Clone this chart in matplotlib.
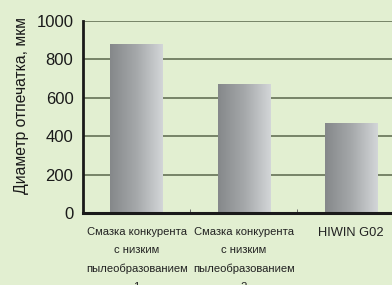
import numpy as np
import matplotlib.pyplot as plt
from matplotlib.colors import LinearSegmentedColormap

# Data
categories = [
    "Смазка конкурента\nс низким\nпылеобразованием\n1",
    "Смазка конкурента\nс низким\nпылеобразованием\n2",
    "HIWIN G02",
]
values = [880, 668, 465]
yticks = [0, 200, 400, 600, 800, 1000]

plt.rcParams["font.family"] = ["Liberation Sans", "DejaVu Sans"]

bg = "#e2efd1"
fig = plt.figure(figsize=(3.92, 2.85), dpi=100, facecolor=bg)
ax = fig.add_axes([0.212, 0.2526, 0.82, 0.6737], facecolor=bg)

x = np.arange(len(categories))
width = 0.49
bars = ax.bar(x, values, width=width, color="none", zorder=3)

# gradient fill for each bar
cmap = LinearSegmentedColormap.from_list("bar", ["#85888a", "#a5a8aa", "#d3d6d8"])
grad = np.linspace(0, 1, 256).reshape(1, -1)
for b in bars:
    x0, y0 = b.get_x(), b.get_y()
    ax.imshow(grad, cmap=cmap, aspect="auto", zorder=3,
              extent=[x0, x0 + b.get_width(), y0, y0 + b.get_height()])

ax.set_xlim(-0.5, len(categories) - 0.5)
ax.set_ylim(0, 1000)
ax.set_yticks(yticks)
ax.set_yticklabels([str(v) for v in yticks], fontsize=12, color="#1a1a1a")
ax.yaxis.grid(True, color="#6e7b60", linewidth=1.3, zorder=1)
ax.set_axisbelow(True)

ax.set_xticks(x)
ax.set_xticklabels(categories, fontsize=8.1, color="#222222", linespacing=2.0)
for lbl in ax.get_xticklabels()[2:]:
    lbl.set_fontsize(9.3)
ax.set_xticks(np.arange(0.5, len(categories) - 0.5), minor=True)
ax.tick_params(axis="x", which="major", length=0, pad=10)
ax.tick_params(axis="x", which="minor", length=3, direction="in", color="#555555")
ax.tick_params(axis="y", length=0, pad=7)

ax.set_ylabel("Диаметр отпечатка, мкм", fontsize=11.3, color="#1a1a1a")
ax.yaxis.set_label_coords(-0.168, 0.5625)

for s in ["top", "right"]:
    ax.spines[s].set_visible(False)
ax.spines["left"].set_linewidth(2)
ax.spines["bottom"].set_linewidth(2.2)
ax.spines["left"].set_color("#1a1a1a")
ax.spines["bottom"].set_color("#1a1a1a")
ax.spines["bottom"].set_zorder(4)

fig.savefig("out.png", dpi=100, facecolor=bg)
